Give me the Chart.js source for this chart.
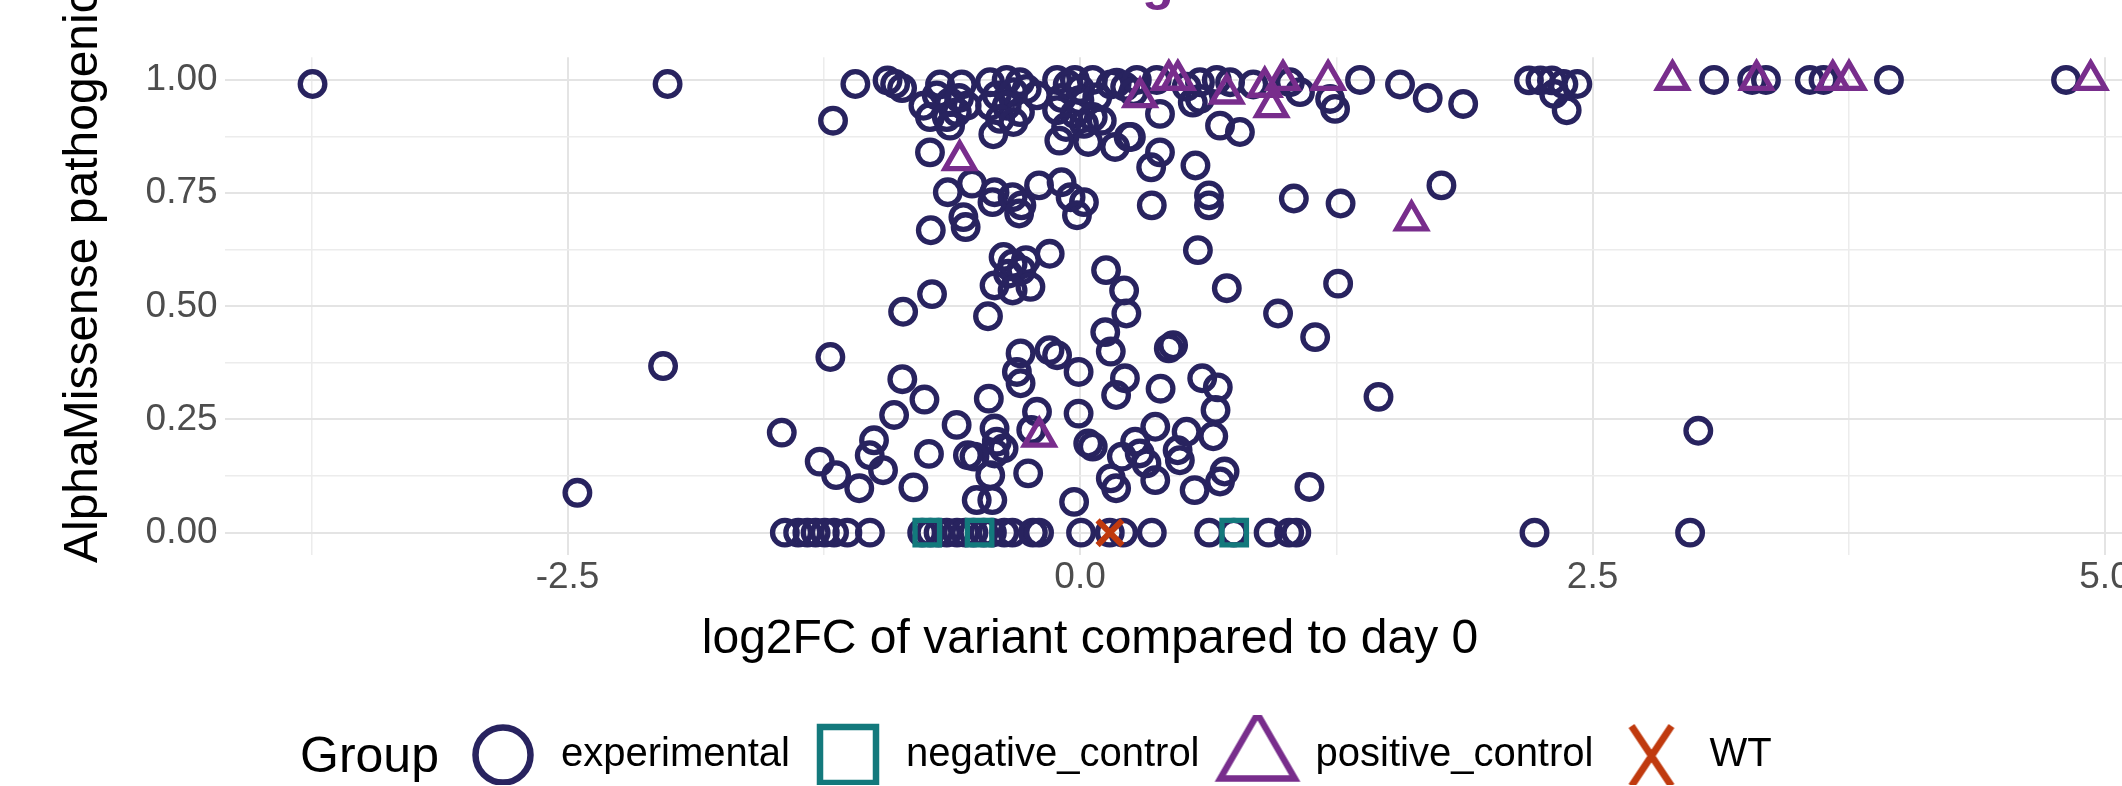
<!DOCTYPE html>
<html>
<head>
<meta charset="utf-8">
<script src="https://cdn.jsdelivr.net/npm/chart.js@4.4.1/dist/chart.umd.min.js"></script>
<style>
  html, body { margin: 0; padding: 0; background: #fff; overflow: hidden; }
  #wrap { width: 2122px; height: 786px; overflow: hidden; position: relative; }
  #wrap canvas { position: absolute; left: 0; top: 0; }
</style>
</head>
<body>
<div id="wrap"><canvas id="scatter" width="2240" height="786"></canvas></div>
<script>
// groups, in legend order
var groupNames = ['experimental', 'negative_control', 'positive_control', 'WT'];
var groupColors = ['#28235f', '#13797c', '#782d8c', '#c03a0e'];

// [log2FC, AlphaMissense score]
var experimental = [
    [-3.744, 0.991], [-2.012, 0.991], [-2.034, 0.368], [-2.452, 0.088],
    [-1.096, 0.991], [-1.205, 0.910], [-0.939, 0.999], [-0.902, 0.991], [-0.868, 0.982],
    [-0.683, 0.990], [-0.577, 0.990], [-0.764, 0.943], [-0.699, 0.966], [-0.634, 0.951],
    [-0.553, 0.943], [-0.732, 0.918], [-0.650, 0.918], [-0.601, 0.929], [-0.634, 0.899],
    [-0.590, 0.960], [-0.732, 0.840],
    [-0.439, 0.995], [-0.358, 1.000], [-0.293, 0.995], [-0.406, 0.966], [-0.325, 0.973],
    [-0.260, 0.980], [-0.439, 0.943], [-0.358, 0.943], [-0.293, 0.929], [-0.390, 0.914],
    [-0.325, 0.907], [-0.211, 0.966], [-0.423, 0.880],
    [-0.112, 1.000], [-0.025, 1.000], [0.062, 1.000], [0.150, 0.990], [-0.090, 0.960],
    [-0.003, 0.955], [0.084, 0.962], [-0.112, 0.933], [-0.025, 0.925], [0.062, 0.918],
    [-0.068, 0.896], [0.019, 0.903], [0.106, 0.910], [-0.101, 0.866], [0.040, 0.863],
    [0.171, 0.852], [0.237, 0.874], [-0.060, 0.990], [0.000, 0.980],
    [0.179, 0.994], [0.220, 0.985], [0.277, 1.000], [0.260, 0.973], [0.374, 1.000],
    [0.390, 0.925], [0.585, 0.995], [0.585, 0.958], [0.667, 1.000], [0.732, 0.995],
    [0.845, 0.990], [1.024, 0.995], [1.073, 0.973], [1.220, 0.958], [1.244, 0.936],
    [1.366, 1.000], [1.561, 0.990], [0.683, 0.899], [0.780, 0.885], [0.390, 0.840],
    [0.347, 0.807], [0.563, 0.811], [0.248, 0.874], [0.520, 0.985], [0.550, 0.950],
    [1.696, 0.960], [1.869, 0.947], [2.190, 0.999], [2.246, 0.999], [2.302, 0.999],
    [2.358, 0.991], [2.426, 0.991], [2.313, 0.969], [2.374, 0.933], [3.093, 1.000],
    [3.279, 1.000], [3.346, 1.000], [3.560, 1.000], [3.627, 1.000], [3.946, 1.000],
    [4.810, 1.000], [1.763, 0.767],
    [-0.645, 0.752], [-0.527, 0.771], [-0.417, 0.752], [-0.427, 0.730], [-0.329, 0.741],
    [-0.286, 0.723], [-0.297, 0.705], [-0.200, 0.767], [-0.090, 0.774], [-0.046, 0.741],
    [0.019, 0.730], [-0.015, 0.701], [0.350, 0.723], [0.629, 0.745], [0.629, 0.723],
    [1.043, 0.738], [1.271, 0.727], [-0.728, 0.668], [-0.569, 0.697], [-0.558, 0.675],
    [0.575, 0.624],
    [-0.373, 0.609], [-0.329, 0.594], [-0.264, 0.602], [-0.351, 0.572], [-0.286, 0.580],
    [-0.148, 0.616], [-0.417, 0.546], [-0.242, 0.543], [-0.329, 0.535], [-0.722, 0.527],
    [0.127, 0.580], [0.215, 0.535], [0.716, 0.540], [1.259, 0.550], [-0.863, 0.488],
    [-0.449, 0.478], [0.226, 0.484], [0.966, 0.484], [1.147, 0.432], [0.123, 0.443],
    [0.150, 0.400], [0.433, 0.407], [0.454, 0.414],
    [-1.218, 0.388], [-0.867, 0.339], [-0.759, 0.294], [-0.907, 0.260], [-0.602, 0.238],
    [-0.445, 0.296], [-0.290, 0.396], [-0.290, 0.330], [-0.308, 0.355], [-0.149, 0.403],
    [-0.112, 0.392], [-0.007, 0.355], [-0.210, 0.267], [-0.007, 0.263], [0.219, 0.341],
    [0.176, 0.304], [0.393, 0.318], [0.596, 0.341], [0.672, 0.321], [0.661, 0.271],
    [1.456, 0.300],
    [-1.455, 0.221], [-1.270, 0.157], [-1.190, 0.127], [-1.077, 0.098], [-1.005, 0.204],
    [-1.026, 0.171], [-0.961, 0.138], [-0.813, 0.100], [-0.737, 0.174], [-0.417, 0.230],
    [-0.406, 0.201], [-0.373, 0.186], [-0.417, 0.175], [-0.547, 0.171], [-0.515, 0.168],
    [-0.438, 0.127], [-0.504, 0.072], [-0.428, 0.072], [-0.253, 0.131], [-0.238, 0.227],
    [0.040, 0.197], [0.062, 0.190], [-0.029, 0.068], [0.367, 0.234], [0.520, 0.223],
    [0.476, 0.182], [0.487, 0.160], [0.269, 0.201], [0.291, 0.175], [0.324, 0.153],
    [0.367, 0.116], [0.204, 0.168], [0.150, 0.120], [0.176, 0.098], [0.559, 0.094],
    [0.705, 0.135], [0.683, 0.113], [1.119, 0.101], [0.650, 0.213], [3.016, 0.225],
    [-1.440, 0], [-1.375, 0], [-1.330, 0], [-1.290, 0], [-1.245, 0], [-1.200, 0],
    [-1.135, 0], [-1.025, 0], [-0.770, 0], [-0.730, 0], [-0.690, 0], [-0.650, 0],
    [-0.600, 0], [-0.560, 0], [-0.520, 0], [-0.470, 0], [-0.430, 0], [-0.370, 0],
    [-0.330, 0], [-0.230, 0], [-0.200, 0], [0.005, 0], [0.145, 0], [0.210, 0],
    [0.350, 0], [0.630, 0], [0.750, 0], [0.920, 0], [1.020, 0], [1.055, 0],
    [2.217, 0], [2.976, 0]
];
var negativeControl = [[-0.745, 0], [-0.490, 0], [0.752, 0]];
var positiveControl = [
    [0.293, 0.962], [0.433, 1.000], [0.477, 1.000], [0.716, 0.970], [0.901, 0.985],
    [0.934, 0.940], [0.990, 1.000], [1.210, 1.000], [2.890, 1.000], [3.300, 1.000],
    [3.672, 1.000], [3.751, 1.000], [4.930, 1.000], [-0.587, 0.823], [-0.199, 0.212],
    [1.617, 0.690]
];
var wildType = [[0.146, 0]];

// ticks (minor ones carry no label)
var xTicks = [-3.75, -2.5, -1.25, 0, 1.25, 2.5, 3.75, 5];
var xTickLabels = ['', '-2.5', '', '0.0', '', '2.5', '', '5.0'];
var yTicks = [0, 0.125, 0.25, 0.375, 0.5, 0.625, 0.75, 0.875, 1];
var yTickLabels = ['0.00', '', '0.25', '', '0.50', '', '0.75', '', '1.00'];

var xTitle = 'log2FC of variant compared to day 0';
var yTitle = 'AlphaMissense pathogenicity score';
var plotTitle = 'Fitness change of missense variants';
var legendTitle = 'Group';

var family = '"Liberation Sans", Arial, Helvetica, sans-serif';

function toPoints(list) {
    return list.map(function (p) { return { x: p[0], y: p[1] }; });
}

// big legend keys, drawn once on small canvases
function makeKey(kind, color) {
    var c = document.createElement('canvas');
    c.width = 96; c.height = 96;
    var g = c.getContext('2d');
    g.strokeStyle = color;
    g.lineWidth = 6.5;
    g.lineJoin = 'miter';
    g.beginPath();
    if (kind === 'circle') {
        g.arc(48, 48, 27.5, 0, Math.PI * 2);
    } else if (kind === 'square') {
        g.rect(20, 20, 56, 56);
    } else if (kind === 'triangle') {
        var r = 43;
        g.moveTo(48, 50 - r);
        g.lineTo(48 + r * 0.866, 50 + r / 2);
        g.lineTo(48 - r * 0.866, 50 + r / 2);
        g.closePath();
    } else {
        g.lineWidth = 7;
        g.moveTo(28, 19); g.lineTo(68, 79);
        g.moveTo(68, 19); g.lineTo(28, 79);
    }
    g.stroke();
    return c;
}
var legendKeys = [
    makeKey('circle', groupColors[0]),
    makeKey('square', groupColors[1]),
    makeKey('triangle', groupColors[2]),
    makeKey('cross', groupColors[3])
];

function isMajor(list, labels, value) {
    var i = list.indexOf(value);
    return i >= 0 && labels[i] !== '';
}

// axis titles, legend title and the cut-off plot title
var textPlugin = {
    id: 'textPlugin',
    afterDraw: function (chart) {
        var ctx = chart.ctx;
        ctx.save();
        ctx.font = 'bold 52px ' + family;
        ctx.fillStyle = groupColors[2];
        ctx.textAlign = 'left';
        ctx.textBaseline = 'alphabetic';
        var pre = plotTitle.slice(0, plotTitle.indexOf('g'));
        ctx.fillText(plotTitle, 1142 - ctx.measureText(pre).width, -1);

        ctx.fillStyle = '#000';
        ctx.font = '48px ' + family;
        ctx.textAlign = 'center';
        ctx.fillText(xTitle, 1090, 653);

        ctx.font = '50px ' + family;
        ctx.textAlign = 'left';
        ctx.fillText(legendTitle, 300, 772);

        ctx.font = '48px ' + family;
        ctx.translate(97, 563);
        ctx.rotate(-Math.PI / 2);
        ctx.fillText(yTitle, 0, 0);
        ctx.restore();
    }
};

// order: higher is drawn first (further back)
var sets = [
    { data: experimental, style: 'circle', radius: 12.3, width: 5.3, order: 3 },
    { data: negativeControl, style: 'rect', radius: 17.3, width: 5.3, order: 2 },
    { data: positiveControl, style: 'triangle', radius: 17, width: 5.3, order: 1 },
    { data: wildType, style: 'crossRot', radius: 17.5, width: 6, order: 0 }
];

new Chart(document.getElementById('scatter'), {
    type: 'scatter',
    data: {
        datasets: sets.map(function (s, i) {
            return {
                label: groupNames[i],
                data: toPoints(s.data),
                order: s.order,
                pointStyle: s.style,
                pointRadius: s.radius,
                pointHoverRadius: s.radius,
                pointBorderWidth: s.width,
                pointHoverBorderWidth: s.width,
                pointBorderColor: groupColors[i],
                pointBackgroundColor: 'rgba(0,0,0,0)',
                borderColor: groupColors[i],
                clip: false
            };
        })
    },
    options: {
        responsive: false,
        animation: false,
        events: [],
        layout: { padding: { left: 57.6, right: 61, top: 57.3, bottom: 1 } },
        scales: {
            x: {
                type: 'linear',
                min: -4.173,
                max: 5.361,
                afterBuildTicks: function (s) { s.ticks = xTicks.map(function (v) { return { value: v }; }); },
                afterFit: function (s) { s.height = 159.7; },
                border: { display: false },
                grid: {
                    drawTicks: false,
                    color: function (c) { return isMajor(xTicks, xTickLabels, c.tick.value) ? '#e4e4e4' : '#ececec'; },
                    lineWidth: function (c) { return isMajor(xTicks, xTickLabels, c.tick.value) ? 2 : 1.5; }
                },
                ticks: {
                    autoSkip: false,
                    maxRotation: 0,
                    padding: 0,
                    color: '#4d4d4d',
                    font: { size: 37, family: family },
                    callback: function (v) { return xTickLabels[xTicks.indexOf(v)] || ''; }
                }
            },
            y: {
                type: 'linear',
                min: -0.05,
                max: 1.05,
                afterBuildTicks: function (s) { s.ticks = yTicks.map(function (v) { return { value: v }; }); },
                afterFit: function (s) { s.width = 167; },
                border: { display: false },
                grid: {
                    drawTicks: false,
                    color: function (c) { return isMajor(yTicks, yTickLabels, c.tick.value) ? '#e4e4e4' : '#ececec'; },
                    lineWidth: function (c) { return isMajor(yTicks, yTickLabels, c.tick.value) ? 2 : 1.5; }
                },
                ticks: {
                    autoSkip: false,
                    padding: 7,
                    color: '#4d4d4d',
                    font: { size: 37, family: family },
                    callback: function (v) { return yTickLabels[yTicks.indexOf(v)] || ''; }
                }
            }
        },
        plugins: {
            title: { display: false },
            tooltip: { enabled: false },
            legend: {
                position: 'bottom',
                align: 'center',
                labels: {
                    usePointStyle: true,
                    pointStyleWidth: 76,
                    padding: 20,
                    color: '#000',
                    font: { size: 40, family: family },
                    generateLabels: function () {
                        return groupNames.map(function (name, i) {
                            return {
                                text: name,
                                pointStyle: legendKeys[i],
                                fillStyle: 'rgba(0,0,0,0)',
                                strokeStyle: groupColors[i],
                                lineWidth: 0,
                                hidden: false,
                                datasetIndex: i
                            };
                        });
                    }
                }
            }
        }
    },
    plugins: [textPlugin]
});
</script>
</body>
</html>
